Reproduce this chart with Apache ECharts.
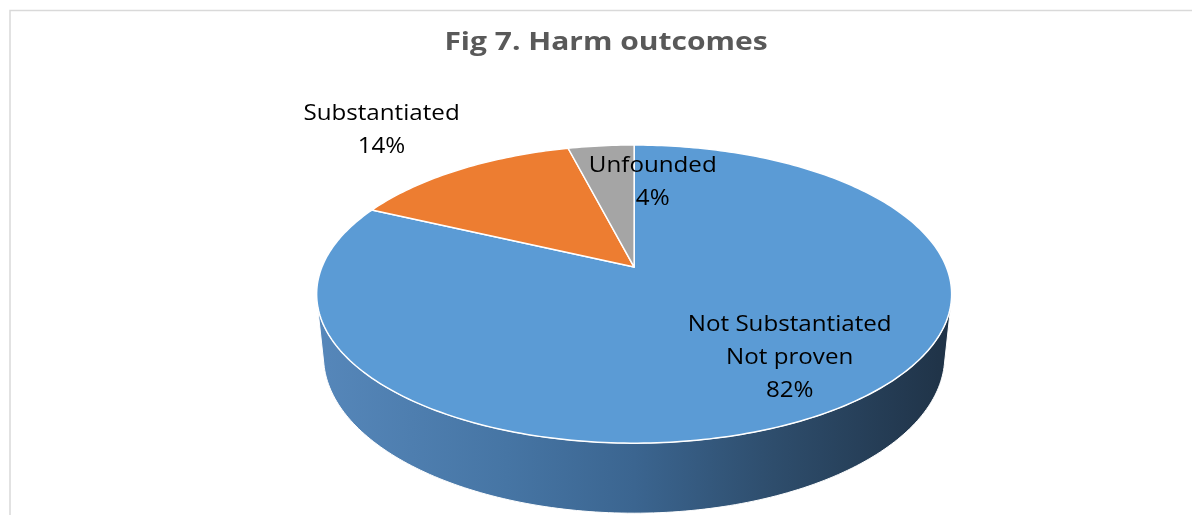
<!DOCTYPE html>
<html>
<head>
<meta charset="utf-8">
<script src="https://cdn.jsdelivr.net/npm/echarts@6/dist/echarts.min.js"></script>
<style>
  html, body { margin: 0; padding: 0; background: #fff; }
  #chart { width: 1192px; height: 515px; }
</style>
</head>
<body>
<div id="chart"></div>
<script>
// Harm outcomes, share of cases (%)
const categories = ['Not Substantiated\nNot proven', 'Substantiated', 'Unfounded'];
const shares = [82, 14, 4];
const sliceColors = ['#5b9bd5', '#ed7d31', '#a5a5a5'];
const titleText = 'Fig 7. Harm outcomes';

// label placement per slice: radius (1 = rim) and a small turn in degrees
const labelPlacement = [
  { r: 0.72, turn: -6 },
  { r: 1.5, turn: -1 },
  { r: 0.66, turn: 13 }
];

// 3D view of the disc: camera elevation, camera distance (in radii), thickness (in radii)
const VIEW = {
  tilt: 27.5 * Math.PI / 180,
  dist: 4.89,
  thickness: 0.226,
  radiusPx: 317.5,
  center: [0.532, 0.5185]
};

const total = shares.reduce((a, b) => a + b, 0);
const starts = [];
shares.reduce((acc, v, i) => { starts[i] = acc; return acc + v; }, 0);

function makeProjector(w, h) {
  const k = Math.cos(VIEW.tilt), sn = Math.sin(VIEW.tilt);
  const S = VIEW.radiusPx * Math.sqrt(VIEW.dist * VIEW.dist - k * k);
  const cx = w * VIEW.center[0], cy = h * VIEW.center[1];
  return function (x, y, z) {
    const depth = VIEW.dist - y * sn - z * k;
    const up = y * k - z * sn;
    return [cx + S * x / depth, cy - S * up / depth];
  };
}

// angle on the disc (0 = right, +90deg = front), slices run clockwise from 12 o'clock
function angleOf(v) { return -Math.PI / 2 + 2 * Math.PI * v / total; }

function arc(project, a0, a1, y) {
  const pts = [];
  const n = Math.max(2, Math.ceil(Math.abs(a1 - a0) / (Math.PI / 180)));
  for (let i = 0; i <= n; i++) {
    const a = a0 + (a1 - a0) * i / n;
    pts.push(project(Math.cos(a), y, Math.sin(a)));
  }
  return pts;
}

function renderItem(params, api) {
  const i = params.dataIndex;
  const w = api.getWidth(), h = api.getHeight();
  const project = makeProjector(w, h);
  const a0 = angleOf(starts[i]);
  const a1 = angleOf(starts[i] + shares[i]);
  const children = [];

  // outer wall, only the part that faces the viewer
  const k = Math.cos(VIEW.tilt);
  const vs = Math.asin(1 / (VIEW.dist * k));
  const ve = Math.PI - vs;
  const left = w * VIEW.center[0] - VIEW.radiusPx;
  const right = w * VIEW.center[0] + VIEW.radiusPx;
  for (let t = -1; t <= 1; t++) {
    const lo = Math.max(a0, vs + 2 * Math.PI * t);
    const hi = Math.min(a1, ve + 2 * Math.PI * t);
    if (hi > lo) {
      const top = arc(project, lo, hi, 0);
      const bottom = arc(project, lo, hi, -VIEW.thickness).reverse();
      children.push({
        type: 'polygon',
        z2: 1,
        shape: { points: top.concat(bottom) },
        style: {
          fill: new echarts.graphic.LinearGradient(left, 0, right, 0, [
            { offset: 0, color: '#5687ba' },
            { offset: 0.3, color: '#4675a4' },
            { offset: 0.5, color: '#3b6590' },
            { offset: 0.72, color: '#2e4d6c' },
            { offset: 1, color: '#1f3246' }
          ], true),
          stroke: '#ffffff',
          lineWidth: 1
        }
      });
    }
  }

  // top face
  const facePts = [project(0, 0, 0)].concat(arc(project, a0, a1, 0));
  children.push({
    type: 'polygon',
    z2: 5,
    shape: { points: facePts },
    style: { fill: sliceColors[i], stroke: '#ffffff', lineWidth: 1.5, lineJoin: 'round' }
  });

  // data label
  const lp = labelPlacement[i];
  const am = (a0 + a1) / 2 + lp.turn * Math.PI / 180;
  const pos = project(lp.r * Math.cos(am), 0, lp.r * Math.sin(am));
  children.push({
    type: 'text',
    z2: 10,
    x: pos[0],
    y: pos[1],
    scaleX: 1.15,
    style: {
      text: categories[i] + '\n' + api.value(0) + '%',
      fill: '#000000',
      font: '21px "Open Sans"',
      lineHeight: 33,
      align: 'center',
      verticalAlign: 'middle'
    }
  });

  return { type: 'group', children: children };
}

const chart = echarts.init(document.getElementById('chart'), null, { renderer: 'canvas' });
chart.setOption({
  animation: false,
  backgroundColor: '#ffffff',
  graphic: [
    {
      type: 'rect',
      z: -10,
      shape: { x: 10, y: 10.5, width: 1400, height: 800 },
      style: { fill: 'none', stroke: '#d9d9d9', lineWidth: 1.5 }
    },
    {
      type: 'text',
      x: 606,
      y: 43,
      scaleX: 1.2,
      style: {
        text: titleText,
        fill: '#595959',
        font: 'bold 25px "Open Sans"',
        align: 'center',
        verticalAlign: 'middle'
      }
    }
  ],
  series: [{
    type: 'custom',
    coordinateSystem: 'none',
    renderItem: renderItem,
    data: shares.map(v => [v])
  }]
});
</script>
</body>
</html>
